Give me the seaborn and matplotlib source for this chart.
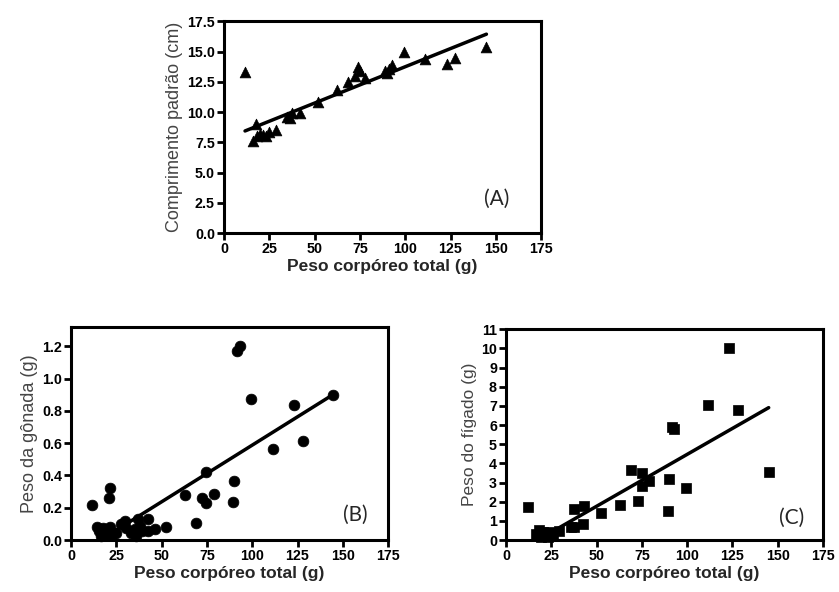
import numpy as np
import pandas as pd
import matplotlib
matplotlib.use("Agg")
import matplotlib.pyplot as plt
import seaborn as sns

# (A) comprimento padrao vs peso corporeo
peso_a = [11.6, 17.7, 16.2, 18.0, 19.9, 21.7, 23.0, 24.9, 28.7, 34.6, 36.5, 37.4, 42.0,
          51.8, 62.3, 68.3, 72.4, 74.2, 74.8, 77.9, 88.6, 89.9, 90.8, 92.6, 99.5,
          111.0, 123.0, 127.6, 144.8]
comp_a = [13.3, 9.0, 7.6, 8.0, 8.2, 8.1, 8.0, 8.4, 8.5, 9.6, 9.5, 9.9, 9.9,
          10.8, 11.8, 12.5, 13.0, 13.7, 13.4, 12.8, 13.4, 13.2, 13.6, 13.9, 15.0,
          14.4, 14.0, 14.5, 15.4]

# (B) peso da gonada vs peso corporeo
peso_b = [11.5, 20.9, 21.5, 14.3, 15.7, 17.6, 19.4, 21.3, 16.7, 19.4, 23.1, 25.0,
          27.4, 29.6, 30.6, 33.3, 35.2, 37.0, 38.0, 36.0, 39.4, 42.6, 42.6, 46.3,
          52.4, 63.0, 68.9, 72.2, 74.6, 74.6, 78.7, 89.3, 90.0, 91.7, 93.5, 99.6,
          111.6, 123.0, 128.0, 144.7]
gonada_b = [0.216, 0.262, 0.32, 0.082, 0.056, 0.076, 0.066, 0.082, 0.025, 0.029, 0.035, 0.045,
            0.097, 0.12, 0.076, 0.045, 0.066, 0.13, 0.087, 0.025, 0.056, 0.13, 0.056, 0.066,
            0.08, 0.278, 0.107, 0.262, 0.42, 0.227, 0.285, 0.235, 0.363, 1.17, 1.2, 0.874,
            0.561, 0.835, 0.612, 0.897]

# (C) peso do figado vs peso corporeo
peso_c = [12.0, 16.6, 18.4, 20.3, 22.1, 24.0, 19.4, 25.8, 23.0, 29.5, 35.9, 37.8,
          37.8, 42.9, 42.4, 52.5, 63.2, 69.1, 72.7, 75.1, 75.0, 78.8, 89.3, 90.2,
          91.5, 93.0, 99.5, 111.3, 122.9, 128.0, 145.0]
figado_c = [1.7, 0.3, 0.5, 0.4, 0.3, 0.4, 0.15, 0.25, 0.15, 0.49, 0.66, 0.66,
            1.6, 1.77, 0.83, 1.39, 1.83, 3.67, 2.05, 3.5, 2.83, 3.1, 1.53, 3.17,
            5.88, 5.8, 2.7, 7.07, 10.03, 6.81, 3.53]

# retas de regressao (inclinacao, intercepto)
reta_a = (0.060, 7.75)
reta_b = (0.00702, -0.1144)
reta_c = (0.0542, -0.95)

sns.set_style("ticks")
plt.rcParams["font.family"] = ["Liberation Sans", "DejaVu Sans"]

fig = plt.figure(figsize=(8.39, 5.92), dpi=100)
ax_a = fig.add_axes([0.267, 0.606, 0.378, 0.358])
ax_b = fig.add_axes([0.0846, 0.0878, 0.378, 0.36])
ax_c = fig.add_axes([0.603, 0.0878, 0.378, 0.356])


def linha(x, reta):
    m, b = reta
    x0 = max(min(x), -b / m)
    xs = np.array([x0, max(x)])
    return pd.DataFrame({"x": xs, "y": m * xs + b})


paineis = [
    (ax_a, peso_a, comp_a, reta_a, "^", 60, "Comprimento padrão (cm)", 13, "(A)", 0.861, 0.16,
     (0, 17.5), np.arange(0, 17.6, 2.5), "{:.1f}"),
    (ax_b, peso_b, gonada_b, reta_b, "o", 60, "Peso da gônada (g)", 13, "(B)", 0.896, 0.117,
     (0, 1.32), np.arange(0, 1.21, 0.2), "{:.1f}"),
    (ax_c, peso_c, figado_c, reta_c, "s", 45, "Peso do fígado (g)", 12.5, "(C)", 0.90, 0.103,
     (0, 11), np.arange(0, 12, 1), "{:.0f}"),
]

for ax, x, y, reta, mk, s, ylab, yfs, tag, tx, ty, ylim, yticks, fmt in paineis:
    sns.scatterplot(x=x, y=y, ax=ax, marker=mk, s=s, color="black", edgecolor="black",
                    linewidth=0.5, zorder=3, clip_on=False)
    df = linha(x, reta)
    sns.lineplot(data=df, x="x", y="y", ax=ax, color="black", linewidth=2.5, zorder=4)
    ax.set_xlim(0, 175)
    ax.set_ylim(*ylim)
    ax.set_xticks(np.arange(0, 176, 25))
    ax.set_yticks(yticks)
    ax.set_yticklabels([fmt.format(v) for v in yticks])
    for sp in ax.spines.values():
        sp.set_visible(True)
        sp.set_linewidth(2.2)
        sp.set_color("black")
    ax.tick_params(direction="out", length=5, width=2, labelsize=10.3, pad=1.5, colors="black")
    for lb in ax.get_xticklabels() + ax.get_yticklabels():
        lb.set_fontweight("bold")
    ax.set_xlabel("Peso corpóreo total (g)", fontsize=12.5, fontweight="bold", labelpad=2)
    ax.set_ylabel(ylab, fontsize=yfs, color="#454545", labelpad=3)
    ax.text(tx, ty, tag, transform=ax.transAxes, ha="center", va="center",
            fontsize=15, family=["Lato", "DejaVu Sans"])

fig.savefig("out.png", dpi=100)
